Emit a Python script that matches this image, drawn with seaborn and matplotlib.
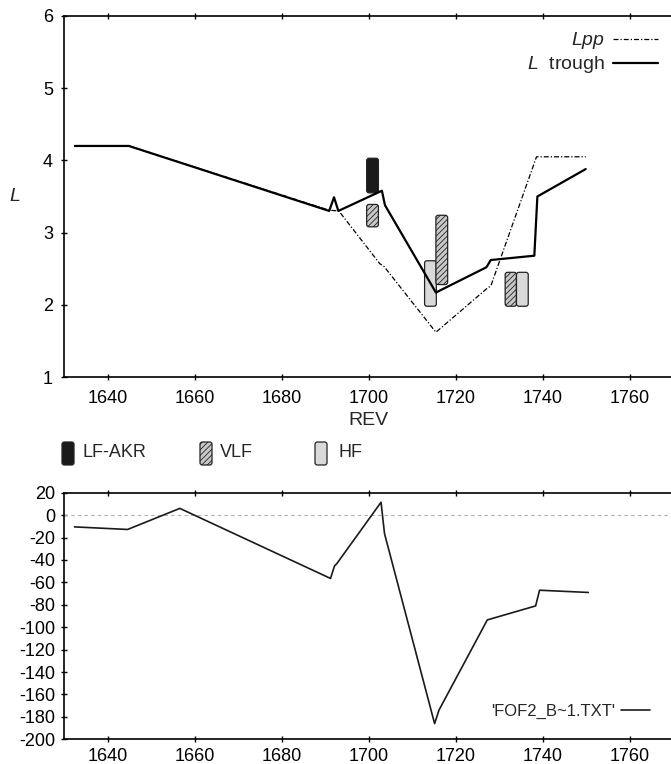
import numpy as np
import pandas as pd
import matplotlib
matplotlib.use("Agg")
import matplotlib.pyplot as plt
from matplotlib.patches import FancyBboxPatch
import seaborn as sns

# ---- data ----
rev_lpp = [1632.5, 1644.9, 1690.9, 1693.1, 1702.5, 1703.5, 1715.4, 1727.2, 1728.0, 1738.5, 1749.8]
lpp = [4.20, 4.20, 3.31, 3.30, 2.57, 2.53, 1.62, 2.23, 2.26, 4.05, 4.05]

rev_trough = [1632.5, 1644.9, 1690.9, 1692.0, 1693.0, 1703.0, 1703.7, 1715.4, 1727.0, 1728.0, 1738.0, 1738.7, 1749.8]
l_trough = [4.20, 4.20, 3.30, 3.49, 3.30, 3.58, 3.38, 2.17, 2.52, 2.62, 2.68, 3.50, 3.88]

# emission boxes: kind, left rev, right rev, low L, high L
box_kind = ["LF-AKR", "VLF", "HF", "VLF", "VLF", "HF"]
box_left = [1699.5, 1699.5, 1712.8, 1715.4, 1731.3, 1733.9]
box_right = [1702.2, 1702.2, 1715.5, 1718.1, 1733.9, 1736.6]
box_low = [3.55, 3.08, 1.98, 2.28, 1.98, 1.98]
box_high = [4.03, 3.39, 2.61, 3.24, 2.45, 2.45]

rev_fof2 = [1632.4, 1644.6, 1656.6, 1691.2, 1692.1, 1692.7, 1702.8, 1703.6, 1715.1, 1716.1, 1727.2, 1738.3, 1739.2, 1750.4]
fof2 = [-10.5, -12.8, 6.0, -56.5, -45.5, -43.0, 11.5, -16.5, -186.0, -174.0, -93.5, -81.0, -67.0, -69.0]

legend_kinds = ["LF-AKR", "VLF", "HF"]
x_ticks = [1640, 1660, 1680, 1700, 1720, 1740, 1760]

styles = {
    "LF-AKR": dict(facecolor="#1a1a1a", hatch=None),
    "VLF": dict(facecolor="#c8c8c8", hatch="//////"),
    "HF": dict(facecolor="#d9d9d9", hatch=None),
}

sns.set_style("ticks")
plt.rcParams["font.family"] = ["Liberation Sans", "DejaVu Sans"]
plt.rcParams["mathtext.fontset"] = "custom"
plt.rcParams["mathtext.it"] = "Liberation Sans:italic"
plt.rcParams["mathtext.rm"] = "Liberation Sans"
plt.rcParams["hatch.linewidth"] = 0.6
plt.rcParams["axes.unicode_minus"] = False

fig = plt.figure(figsize=(6.71, 7.64), dpi=100)
ax1 = fig.add_axes([64 / 671, 1 - 377 / 764, 607 / 671 + 0.004, 361 / 764])
ax2 = fig.add_axes([64 / 671, 1 - 739.3 / 764, 607 / 671 + 0.004, 246.6 / 764])


def style_axes(ax, xpad, ypad):
    for sp in ax.spines.values():
        sp.set_visible(True)
        sp.set_linewidth(1.2)
        sp.set_color("black")
    ax.tick_params(direction="inout", length=5, width=1.0, top=True, right=True,
                   labelsize=13, colors="black")
    ax.tick_params(axis="x", pad=xpad)
    ax.tick_params(axis="y", pad=ypad)
    ax.set_xlim(1630, 1770)
    ax.set_xticks(x_ticks)


# ---- top panel ----
style_axes(ax1, 6.8, 5.4)
ax1.set_ylim(1, 6)
ax1.set_yticks([1, 2, 3, 4, 5, 6])

bars = ax1.bar(box_left, np.array(box_high) - np.array(box_low),
               width=np.array(box_right) - np.array(box_left),
               bottom=box_low, align="edge")
# swap the plain rectangles for rounded ones
for rect, kind in zip(bars.patches, box_kind):
    x0, y0, w, h = rect.get_x(), rect.get_y(), rect.get_width(), rect.get_height()
    rect.remove()
    fb = FancyBboxPatch((x0, y0), w, h, boxstyle="round,pad=0,rounding_size=0.55",
                        mutation_aspect=0.06, facecolor=styles[kind]["facecolor"],
                        edgecolor="#222222", linewidth=0.9,
                        hatch=styles[kind]["hatch"], zorder=3)
    ax1.add_patch(fb)

df_top = pd.DataFrame({"rev": rev_lpp, "L": lpp})
sns.lineplot(data=df_top, x="rev", y="L", ax=ax1, color="black", linewidth=0.9,
             sort=False, estimator=None, zorder=2)
lpp_line = ax1.lines[-1]
lpp_line.set_dashes((4, 1.6, 1, 1.6))

df_tr = pd.DataFrame({"rev": rev_trough, "L": l_trough})
sns.lineplot(data=df_tr, x="rev", y="L", ax=ax1, color="black", linewidth=1.6,
             sort=False, estimator=None, zorder=4)
tr_line = ax1.lines[-1]

ax1.legend([lpp_line, tr_line], [r"$\mathit{Lpp}$", r"$\mathit{L}$  trough"],
           loc="upper right", bbox_to_anchor=(1766.3, 5.80),
           bbox_transform=ax1.transData, borderpad=0, borderaxespad=0,
           handlelength=2.3, handletextpad=0.4, labelspacing=0.15,
           fontsize=14, markerfirst=False, frameon=False)

ax1.set_xlabel("REV", fontsize=14, labelpad=4)
ax1.set_ylabel("L", fontsize=14, style="italic", rotation=0, ha="center", va="center")
ax1.yaxis.set_label_coords(-0.081, 0.5)

# ---- legend row for the emission boxes ----
legend_box_x = [62, 200, 315]
legend_text_x = [83, 220, 338]
for kind, bx, tx in zip(legend_kinds, legend_box_x, legend_text_x):
    fb = FancyBboxPatch((bx / 671, 1 - 465 / 764), 12 / 671, 23 / 764,
                        boxstyle="round,pad=0,rounding_size=0.0035",
                        mutation_aspect=671 / 764, transform=fig.transFigure,
                        facecolor=styles[kind]["facecolor"], edgecolor="#222222",
                        linewidth=0.9, hatch=styles[kind]["hatch"])
    fig.add_artist(fb)
    fig.text(tx / 671, 1 - 453 / 764, kind, fontsize=13, ha="left", va="center")

# ---- bottom panel ----
style_axes(ax2, 4, 3.6)
ax2.set_ylim(-200, 20)
ax2.set_yticks(np.arange(-200, 21, 20))
ax2.axhline(0, color="#b0b0b0", linewidth=0.8, dashes=(3, 3), zorder=1)

df_bot = pd.DataFrame({"rev": rev_fof2, "dfof2": fof2})
sns.lineplot(data=df_bot, x="rev", y="dfof2", ax=ax2, color="#1a1a1a", linewidth=1.2,
             sort=False, estimator=None, zorder=3)
ax2.legend([ax2.lines[-1]], ["'FOF2_B~1.TXT'"], loc="upper right",
           bbox_to_anchor=(1764.5, -168), bbox_transform=ax2.transData,
           borderpad=0, borderaxespad=0, handlelength=1.75, handletextpad=0.3,
           fontsize=12, markerfirst=False, frameon=False)
ax2.set_xlabel("")
ax2.set_ylabel("")

fig.savefig("out.png", dpi=100)
